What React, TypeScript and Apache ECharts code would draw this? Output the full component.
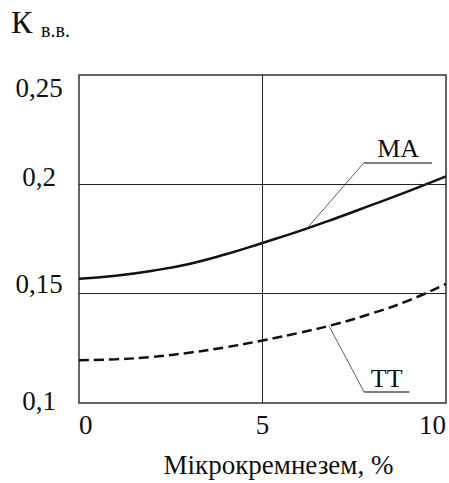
import React, { useEffect, useRef } from "react";
import * as echarts from "echarts";

// ---- data ----
const xValues = [0, 1, 2, 3, 4, 5, 6, 7, 8, 9, 10];
const maValues = [0.1568, 0.1582, 0.1605, 0.1636, 0.168, 0.1732, 0.1786, 0.1845, 0.1907, 0.197, 0.2036];
const ttValues = [0.1196, 0.12, 0.1211, 0.123, 0.1255, 0.1286, 0.1321, 0.1361, 0.1411, 0.147, 0.1545];
const seriesNames = ["МА", "ТТ"];
const yTickLabels = ["0,1", "0,15", "0,2", "0,25"];
const xTickLabels = ["0", "5", "10"];
const xAxisTitle = "Мікрокремнезем, %";

// ---- layout (as drawn in the figure) ----
const yLabelAt = [0.1009, 0.1545, 0.2032, 0.2441];
const hGridAt = [0.2, 0.1541];
const vGridAt = [5];
const maLeader = [[6.22, 0.18], [7.77, 0.21], [9.62, 0.21]];
const ttLeader = [[6.82, 0.135], [7.77, 0.105], [9.0, 0.105]];

const FONT = "Liberation Serif";
const INK = "#111";

function leaderData(pts: number[][], name: string) {
  return [
    [
      { coord: pts[0], lineStyle: { type: "solid", width: 0.8, color: "#333" }, label: { show: false } },
      { coord: pts[1] },
    ],
    [
      {
        coord: pts[1],
        lineStyle: { type: "solid", width: 1.5, color: "#555" },
        label: {
          show: true,
          formatter: name,
          position: "insideMiddleTop",
          distance: 1,
          fontFamily: FONT,
          fontSize: 26,
          color: INK,
        },
      },
      { coord: pts[2] },
    ],
  ];
}

export default function App() {
  const ref = useRef<HTMLDivElement>(null);
  useEffect(() => {
    document.body.style.margin = "0";
    const chart = echarts.init(ref.current!, null, { renderer: "svg" });
    const nearest = (v: number) => {
      let best = 0;
      yLabelAt.forEach((p, i) => {
        if (Math.abs(p - v) < Math.abs(yLabelAt[best] - v)) best = i;
      });
      return yTickLabels[best];
    };
    chart.setOption({
      animation: false,
      backgroundColor: "#fff",
      textStyle: { fontFamily: FONT },
      grid: {
        left: 79,
        right: 2,
        top: 75,
        bottom: 78,
        show: true,
        borderColor: "#333",
        borderWidth: 1.5,
        containLabel: false,
      },
      graphic: [
        {
          type: "text",
          left: 11,
          top: 6,
          style: { text: "К", fontFamily: FONT, fontSize: 32, fill: INK },
        },
        {
          type: "text",
          left: 41,
          top: 20,
          style: { text: "в.в.", fontFamily: FONT, fontSize: 20, fill: INK },
        },
      ],
      xAxis: {
        type: "value",
        min: 0,
        max: 10,
        interval: 5,
        axisLine: { show: false },
        axisTick: { show: false },
        splitLine: { show: false },
        axisLabel: {
          fontFamily: FONT,
          fontSize: 27,
          color: INK,
          margin: 8,
          alignMinLabel: "left",
          alignMaxLabel: "right",
          formatter: (v: number) => xTickLabels[Math.round(v / 5)],
        },
        name: xAxisTitle,
        nameLocation: "middle",
        nameGap: 48,
        nameTextStyle: { fontFamily: FONT, fontSize: 27, color: INK, padding: [0, 0, 0, 32] },
      },
      yAxis: {
        type: "value",
        min: 0.1,
        max: 0.25,
        axisLine: { show: false },
        axisTick: { show: false },
        splitLine: { show: false },
        axisLabel: {
          customValues: yLabelAt,
          fontFamily: FONT,
          fontSize: 27,
          color: INK,
          align: "center",
          margin: 40,
          formatter: (v: number) => nearest(v),
        },
      },
      series: [
        {
          name: "grid",
          type: "line",
          data: [],
          silent: true,
          markLine: {
            silent: true,
            symbol: "none",
            label: { show: false },
            lineStyle: { type: "solid", color: "#222", width: 1 },
            data: [
              ...hGridAt.map((y) => ({ yAxis: y })),
              ...vGridAt.map((x) => ({ xAxis: x })),
            ],
          },
        },
        {
          name: seriesNames[0],
          type: "line",
          smooth: 0.5,
          symbol: "none",
          data: xValues.map((x, i) => [x, maValues[i]]),
          lineStyle: { color: INK, width: 2.5 },
          markLine: {
            silent: true,
            symbol: "none",
            data: leaderData(maLeader, seriesNames[0]),
          },
        },
        {
          name: seriesNames[1],
          type: "line",
          smooth: 0.5,
          symbol: "none",
          data: xValues.map((x, i) => [x, ttValues[i]]),
          lineStyle: { color: INK, width: 2.5, type: [10, 5] },
          markLine: {
            silent: true,
            symbol: "none",
            data: leaderData(ttLeader, seriesNames[1]),
          },
        },
      ],
    });
    return () => chart.dispose();
  }, []);
  return <div ref={ref} style={{ width: 449, height: 483 }} />;
}
